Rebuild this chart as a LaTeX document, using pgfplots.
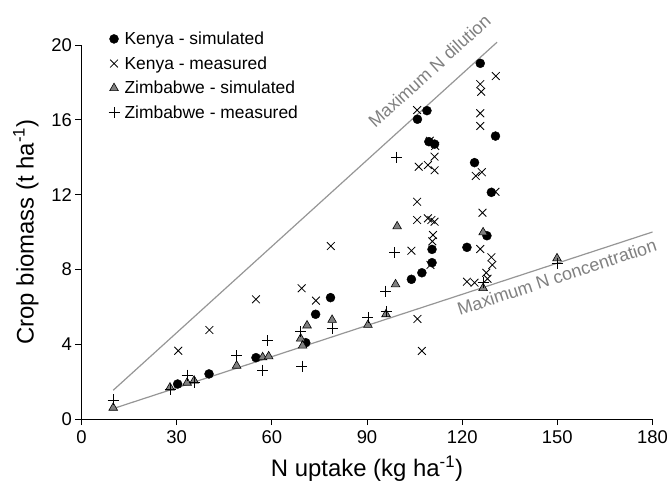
\documentclass[border=0pt]{standalone}
\usepackage{pgfplots}
\pgfplotsset{compat=1.18}
\usepackage{fontspec}
\setmainfont{Liberation Sans}
\definecolor{linegray}{RGB}{150,150,150}
\definecolor{trigray}{RGB}{128,128,128}
\definecolor{labgray}{RGB}{128,128,128}
\begin{document}
\begin{tikzpicture}
\begin{axis}[
  at={(0,0)}, anchor=south west,
  scale only axis, width=571bp, height=374bp,
  xmin=0, xmax=180, ymin=0, ymax=20,
  clip=false,
  xtick={0,30,...,180}, ytick={0,4,...,20},
  axis lines=left, axis line style={-, line width=0.8bp},
  tick align=outside, major tick length=6bp,
  tick style={black, line width=0.8bp},
  ticklabel style={font=\fontsize{18.5}{20}\selectfont},
  xticklabel style={yshift=-2bp},
  /pgf/number format/assume math mode=true,
  xlabel={N uptake (kg ha\textsuperscript{-1})},
  ylabel={Crop biomass (t ha\textsuperscript{-1})},
  label style={font=\fontsize{24}{28}\selectfont},
  xlabel style={yshift=-6bp},
  ylabel style={yshift=6bp},
  legend cell align=left,
  legend image code/.code={\draw[#1] plot coordinates {(3bp,0bp)};},
  legend style={draw=none, fill=none, at={(0.047,1.041)}, anchor=north west,
    font=\fontsize{17.5}{20}\selectfont, row sep=6.5bp,
    inner sep=0pt, /tikz/every odd column/.append style={column sep=3bp}},
]
% boundary lines
\addplot[linegray, line width=1.2bp, forget plot] coordinates {(10,1.538) (131,20.15)}
  node[pos=0.866, sloped, above=17bp, inner sep=0pt, text=labgray, font=\fontsize{18}{20}\selectfont] {Maximum N dilution};
\addplot[linegray, line width=1.2bp, forget plot] coordinates {(10,0.556) (180,10)}
  node[pos=0.815, sloped, below=6bp, inner sep=0pt, text=labgray, font=\fontsize{18}{20}\selectfont] {Maximum N concentration};

% Kenya - simulated
\addplot[only marks, mark=*, mark size=4.5bp, black] coordinates {
(30.3,1.87) (40.2,2.41) (55,3.28) (70.7,4.08) (73.8,5.6) (78.5,6.49)
(104,7.47) (107.3,7.82) (110.5,8.36) (110.5,9.07) (105.9,16.03) (108.9,16.49)
(109.5,14.83) (111.3,14.7) (121.5,9.18) (127.8,9.8) (123.9,13.71)
(129.2,12.12) (130.5,15.13) (125.7,19.02)
};
\addlegendentry{Kenya - simulated}

% Kenya - measured
\addplot[only marks, mark=x, mark size=5.5bp, black, mark options={line width=0.8bp}] coordinates {
(30.5,3.65) (40.3,4.76) (55,6.4) (69.4,6.99) (73.9,6.33) (78.6,9.25)
(104,9.0) (105.9,5.35) (107.3,3.64) (105.8,16.52) (109.8,14.88) (111.5,14.6)
(106.3,13.49) (109.2,13.58) (111.3,14.03) (111.3,13.3) (105.8,11.62)
(105.8,10.64) (109.2,10.73) (110.3,10.64) (111.3,10.55) (110.8,9.84)
(110.6,9.5) (110,8.24) (125.7,9.09) (129.2,8.65) (129.5,8.24) (127.6,7.82)
(128,7.5) (121.5,7.34) (123.9,7.29) (126.2,13.2) (124.3,13.0) (130.5,12.15)
(126.4,11.03) (130.6,18.34) (125.7,17.91) (126,17.5) (125.7,16.35) (125.7,15.67)
};
\addlegendentry{Kenya - measured}

% Zimbabwe - simulated
\addplot[only marks, mark=triangle*, mark size=5bp, mark options={fill=trigray, draw=black, line width=0.6bp}] coordinates {
(10,0.6) (27.9,1.68) (33.3,1.94) (35.5,2.05) (48.9,2.85) (57.1,3.3) (59,3.35)
(69.1,4.3) (69.7,3.92) (71.1,5.0) (79,5.3) (90.3,5.03) (96,5.6) (99,7.2)
(99.5,10.3) (126.6,9.98) (126.6,7.0) (149.9,8.59)
};
\addlegendentry{Zimbabwe - simulated}

% Zimbabwe - measured
\addplot[only marks, mark=+, mark size=5.5bp, black, mark options={line width=0.8bp}] coordinates {
(10,1.02) (27.9,1.59) (33.3,2.35) (35.5,1.94) (48.9,3.39) (57.1,2.62) (58.6,4.19)
(69.1,4.67) (69.5,2.83) (79,4.85) (90.3,5.44) (96,5.75) (95.9,6.84) (98.7,8.9)
(99.3,14.0) (126.6,7.3) (149.9,8.33)
};
\addlegendentry{Zimbabwe - measured}
\end{axis}
\pgfresetboundingbox
\path (-81.5bp,-67bp) rectangle (585.5bp,419bp);
\end{tikzpicture}
\end{document}
